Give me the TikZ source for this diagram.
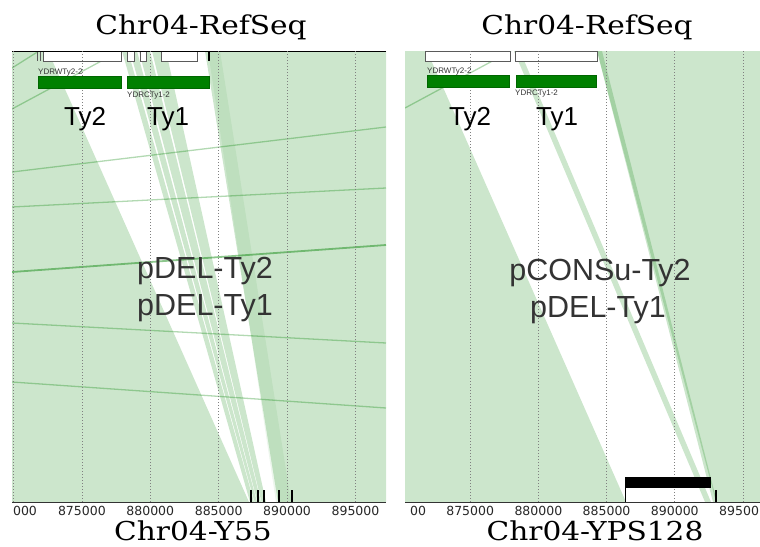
\documentclass[tikz,border=0pt]{standalone}
\usepackage{fontspec}
\setmainfont{Liberation Sans}
\newfontfamily\titlefont{DejaVu Serif}
\newfontfamily\tickfont{DejaVu Sans}
\definecolor{algn}{RGB}{0,128,0}
\definecolor{bargreen}{RGB}{0,128,0}
\definecolor{boxgray}{RGB}{90,90,90}
\definecolor{labgray}{RGB}{51,51,51}
\tikzset{
  aln/.style={fill=algn, fill opacity=0.2},
  alnfaint/.style={fill=algn, fill opacity=0.07},
  alnline/.style={draw=algn, draw opacity=0.3, line width=1.3pt},
  alnlinedark/.style={draw=algn, draw opacity=0.45, line width=1.8pt},
  featbox/.style={draw=boxgray, fill=white, line width=0.8pt},
  genebar/.style={draw=black!60!green, fill=bargreen, line width=0.6pt},
  gridl/.style={draw=gray, line width=0.7pt, dash pattern=on 1pt off 2pt},
  tickmark/.style={draw=black, line width=2pt},
  axisline/.style={draw=black!80, line width=0.8pt},
  titletext/.style={font=\titlefont\fontsize{26}{30}\selectfont, anchor=base, xscale=1.14, transform shape},
  tylabel/.style={font=\fontsize{26}{30}\selectfont, anchor=base},
  biglabel/.style={font=\fontsize{30.5}{34}\selectfont, anchor=base, text=labgray},
  smalllabel/.style={font=\fontsize{8}{9}\selectfont, anchor=base west, text=labgray, inner sep=0pt},
  ticklabel/.style={font=\tickfont\fontsize{12.5}{14}\selectfont, anchor=base, text=black!85, inner sep=0pt}
}
\begin{document}
\begin{tikzpicture}[x=1pt,y=-1pt]
\useasboundingbox (0,0) rectangle (760,546);

% ================= LEFT PANEL =================
\begin{scope}
\clip (12,51) rectangle (386,502);
\fill[aln] (12,51) -- (48,51) -- (249,502) -- (12,502) -- cycle;
\fill[aln] (122,51) -- (128,51) -- (254,502) -- (250,502) -- cycle;
\fill[aln] (130,51) -- (137,51) -- (257,502) -- (254.5,502) -- cycle;
\fill[aln] (139,51) -- (150,51) -- (261,502) -- (257.5,502) -- cycle;
\fill[aln] (152,51) -- (166,51) -- (266,502) -- (261.5,502) -- cycle;
\fill[aln] (205,51) -- (386,51) -- (386,502) -- (278,502) -- cycle;
\fill[alnfaint] (208,51) -- (220,51) -- (291,502) -- (276,502) -- cycle;
\draw[alnline] (12,68) -- (39,51);
\draw[alnline] (12,109) -- (120,51);
\draw[alnline] (12,172) -- (386,127);
\draw[alnline] (12,207) -- (386,188);
\draw[alnlinedark] (12,272) -- (386,245);
\draw[alnline] (12,323) -- (386,343);
\draw[alnline] (12,382) -- (386,408);
\end{scope}

\draw[featbox] (43,51) rectangle (121,61);
\draw[featbox] (127,51) rectangle (134,61);
\draw[featbox] (140,51) rectangle (146,61);
\draw[featbox] (161,51) rectangle (197,61);
\draw[boxgray, line width=0.8pt] (37.5,51) -- (37.5,61);
\draw[boxgray, line width=0.8pt] (40.5,51) -- (40.5,61);
\draw[black, line width=1.4pt] (209,51) -- (209,61);
\draw[black, line width=0.9pt] (12,51) -- (386,51);

\foreach \gx in {13.5,81.9,150.3,218.7,287.1,355.5}
  \draw[gridl] (\gx,51) -- (\gx,502);

\draw[genebar] (38,76) rectangle (121,88);
\draw[genebar] (127,76) rectangle (209,88);
\node[smalllabel] (lw2) at (38,74.5) {YDRWTy2-2};
\node[smalllabel] (lc1) at (127,97) {YDRCTy1-2};
\node[tylabel] (lty2) at (85,125) {Ty2};
\node[tylabel] (lty1) at (168,125) {Ty1};

\node[biglabel] (ldel2) at (205,278) {pDEL-Ty2};
\node[biglabel] (ldel1) at (205,315) {pDEL-Ty1};

\draw[axisline] (12,502) -- (386,502);
\foreach \tx in {250.5,257.5,263.5,279,291.5}
  \draw[tickmark] (\tx,490) -- (\tx,502);

\node[ticklabel] (lt0) at (25,515) {000};
\foreach \gx/\lab in {81.9/875000,150.3/880000,218.7/885000,287.1/890000,355.5/895000}
  \node[ticklabel] at (\gx,515) {\lab};

\node[titletext] (ltop) at (201,34) {Chr04-RefSeq};
\node[titletext] (lbot) at (193,540) {Chr04-Y55};

% ================= RIGHT PANEL =================
\begin{scope}
\clip (405,51) rectangle (760,502);
\fill[aln] (405,51) -- (427,51) -- (626,502) -- (405,502) -- cycle;
\fill[aln] (514,51) -- (520,51) -- (711,502) -- (705,502) -- cycle;
\fill[aln] (597,51) -- (760,51) -- (760,502) -- (716,502) -- cycle;
\fill[aln] (597,51) -- (602,51) -- (717,502) -- (713,502) -- cycle;
\draw[alnline] (405,108) -- (511,51);
\end{scope}

\draw[featbox] (425,51) rectangle (510,61);
\draw[featbox] (515,51) rectangle (597,61);

\foreach \gx in {470.2,538.4,606.6,674.8,743}
  \draw[gridl] (\gx,51) -- (\gx,502);

\draw[genebar] (427,75) rectangle (509,87);
\draw[genebar] (516,75) rectangle (596,87);
\node[smalllabel] (rw2) at (427,73) {YDRWTy2-2};
\node[smalllabel] (rc1) at (515,95.5) {YDRCTy1-2};
\node[tylabel] (rty2) at (470,125) {Ty2};
\node[tylabel] (rty1) at (557,125) {Ty1};

\node[biglabel] (rcons) at (600,280) {pCONSu-Ty2};
\node[biglabel] (rdel1) at (598,317) {pDEL-Ty1};

\fill[black] (625,477) rectangle (711,488);
\draw[black, line width=1pt] (625,488) -- (625,502);
\draw[tickmark] (716,490) -- (716,502);
\draw[axisline] (405,502) -- (760,502);

\node[ticklabel] (rt0) at (418,515) {00};
\foreach \gx/\lab in {470.2/875000,538.4/880000,606.6/885000,674.8/890000}
  \node[ticklabel] at (\gx,515) {\lab};
\node[ticklabel, anchor=base west] (rt5) at (719,515) {89500};

\node[titletext] (rtop) at (587,34) {Chr04-RefSeq};
\node[titletext] (rbot) at (595,540) {Chr04-YPS128};
\end{tikzpicture}
\end{document}
